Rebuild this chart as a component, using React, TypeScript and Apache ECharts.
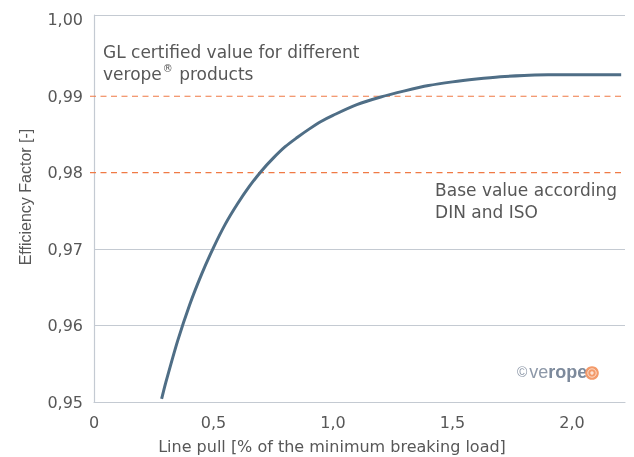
import React, { useEffect, useRef } from "react";
import * as echarts from "echarts";

const linePull = [0.283, 0.3, 0.35, 0.4, 0.45, 0.5, 0.55, 0.6, 0.65, 0.7, 0.75, 0.8, 0.85, 0.9, 0.95, 1.0, 1.1, 1.2, 1.3, 1.4, 1.5, 1.6, 1.7, 1.8, 1.9, 2.0, 2.1, 2.206];
const efficiency = [0.9504, 0.9525, 0.958, 0.9627, 0.9667, 0.9702, 0.9733, 0.9759, 0.9782, 0.9802, 0.9819, 0.9834, 0.9846, 0.9857, 0.9867, 0.9875, 0.9889, 0.9899, 0.9907, 0.9914, 0.99188, 0.99225, 0.99255, 0.99272, 0.9928, 0.99282, 0.99282, 0.99282];
const referenceValues = [0.99, 0.98];
const gridValues = [0.96, 0.97];
const xTicks = [0, 0.5, 1.0, 1.5, 2.0];
const yTicks = [0.95, 0.96, 0.97, 0.98, 0.99, 1.0];

const FONT = "'DejaVu Sans', Verdana, sans-serif";
const SANS = "'Liberation Sans', Arial, sans-serif";
const GREY = "#c4cad2";
const TXT = "#575757";
const ORANGE = "#f07a45";
const X_MIN = 0, X_MAX = 2.222, Y_MIN = 0.95, Y_MAX = 1.00063;

const near = (v: number, arr: number[]) => arr.some((t) => Math.abs(t - v) < 1e-6);

export default function App() {
  const ref = useRef<HTMLDivElement>(null);
  useEffect(() => {
    if (!ref.current) return;
    const chart = echarts.init(ref.current, undefined, { renderer: "svg" });
    const data = linePull.map((x, i) => [x, efficiency[i]]);
    const markData: any[] = [];
    gridValues.concat([Y_MAX]).forEach((v) => {
      markData.push([
        { coord: [X_MIN, v], lineStyle: { color: GREY, type: "solid", width: 1.2 } },
        { coord: [X_MAX, v] },
      ]);
    });
    const graphics: any[] = [
      {
        type: "text",
        left: 103,
        top: 41,
        style: {
          text: "GL certified value for different\n{n|verope}{sup|®}{n| products}",
          fill: TXT,
          font: `17px ${FONT}`,
          lineHeight: 22,
          rich: {
            n: { fontSize: 17, fontFamily: FONT, fill: TXT, lineHeight: 22 },
            sup: { fontSize: 10, fontFamily: FONT, fill: TXT, verticalAlign: "top", lineHeight: 22, padding: [0, 1, 0, 1] },
          },
        },
      },
      {
        type: "text",
        right: 17,
        top: 179,
        style: {
          text: "Base value according\nDIN and ISO",
          fill: TXT,
          font: `17px ${FONT}`,
          lineHeight: 22,
          align: "right",
        },
      },
      {
        type: "text",
        x: 332,
        y: 446,
        style: {
          text: "Line pull [% of the minimum breaking load]",
          fill: TXT,
          font: `16px ${FONT}`,
          align: "center",
          verticalAlign: "middle",
        },
      },
      {
        type: "text",
        x: 25,
        y: 197,
        rotation: Math.PI / 2,
        style: {
          text: "Efficiency Factor [-]",
          fill: TXT,
          font: `16px ${SANS}`,
          align: "center",
          verticalAlign: "middle",
        },
      },
      {
        type: "text",
        x: 517,
        y: 372,
        style: {
          text: "{c|©}{v|ve}{r|rope}",
          verticalAlign: "middle",
          rich: {
            c: { fontSize: 14, fontFamily: SANS, fill: "#8d98a8", padding: [0, 2, 0, 0] },
            v: { fontSize: 18, fontFamily: SANS, fill: "#8d98a8" },
            r: { fontSize: 18, fontFamily: SANS, fill: "#7d8a9c", fontWeight: "bold" },
          },
        },
      },
      { type: "circle", shape: { cx: 592, cy: 373, r: 6.8 }, style: { fill: "#f39a6a" } },
      { type: "circle", shape: { cx: 592, cy: 373, r: 4.2 }, style: { fill: "none", stroke: "#fde3d4", lineWidth: 0.9 } },
      { type: "circle", shape: { cx: 592, cy: 373, r: 1.7 }, style: { fill: "#fde3d4" } },
    ];
    const option: any = {
      animation: false,
      textStyle: { fontFamily: FONT },
      grid: { left: 94, right: 9, top: 15, bottom: 55, containLabel: false },
      xAxis: {
        type: "value",
        min: X_MIN,
        max: X_MAX,
        interval: 0.5,
        axisLine: { show: true, lineStyle: { color: GREY, width: 1.2 } },
        axisTick: { show: false },
        splitLine: { show: false },
        axisLabel: {
          color: TXT,
          fontSize: 16,
          fontFamily: FONT,
          margin: 12,
          formatter: (v: number) => (near(v, xTicks) ? (v === 0 ? "0" : v.toFixed(1).replace(".", ",")) : ""),
        },
      },
      yAxis: {
        type: "value",
        min: Y_MIN,
        max: Y_MAX,
        interval: 0.01,
        axisLine: { show: true, lineStyle: { color: GREY, width: 1.2 } },
        axisTick: { show: false },
        splitLine: { show: false },
        axisLabel: {
          color: TXT,
          fontSize: 16,
          fontFamily: FONT,
          margin: 11,
          formatter: (v: number) => (near(v, yTicks) ? v.toFixed(2).replace(".", ",") : ""),
        },
      },
      series: [
        {
          type: "line",
          data,
          smooth: 0.3,
          showSymbol: false,
          clip: false,
          lineStyle: { color: "#4f6e86", width: 3 },
          z: 5,
          markLine: {
            silent: true,
            symbol: "none",
            label: { show: false },
            animation: false,
            data: markData,
            z: 1,
          },
        },
      ],
      graphic: graphics,
    };
    chart.setOption(option);
    const dashLines = referenceValues.map((v) => {
      const a = chart.convertToPixel({ gridIndex: 0 }, [X_MIN, v]) as number[];
      const b = chart.convertToPixel({ gridIndex: 0 }, [X_MAX, v]) as number[];
      return {
        type: "line",
        silent: true,
        z: 1,
        shape: { x1: a[0] - 4, y1: a[1], x2: b[0], y2: b[1] },
        style: { stroke: ORANGE, lineWidth: 1.2, lineDash: [6, 4.5] },
      };
    });
    chart.setOption({ graphic: graphics.concat(dashLines) });
    return () => chart.dispose();
  }, []);
  return <div ref={ref} style={{ position: "fixed", left: 0, top: 0, width: 634, height: 457 }} />;
}
